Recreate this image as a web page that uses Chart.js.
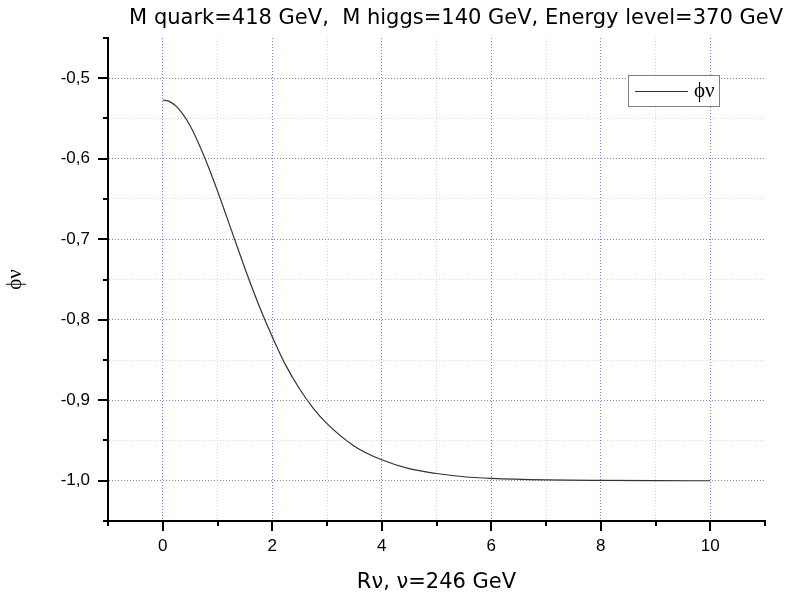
<!DOCTYPE html>
<html>
<head>
<meta charset="utf-8">
<script src="https://cdn.jsdelivr.net/npm/chart.js@4/dist/chart.umd.min.js"></script>
<style>
  body { margin: 0; background: #fff; }
  #wrap { width: 791px; height: 596px; }
</style>
</head>
<body>
<div id="wrap"><canvas id="phiChart" width="791" height="596"></canvas></div>
<script>
// valores
const rValues = [0, 0.125, 0.25, 0.5, 0.75, 1, 1.25, 1.5, 1.75, 2, 2.25, 2.5, 2.75, 3, 3.5, 4, 4.5, 5, 5.5, 6, 7, 8, 9, 10];
const phiValues = [-0.527, -0.529, -0.535, -0.559, -0.596, -0.640, -0.688, -0.736, -0.781, -0.821, -0.857, -0.886, -0.910, -0.929, -0.957, -0.974, -0.985, -0.991, -0.995, -0.997, -0.9989, -0.9996, -0.9999, -1.0];
const xMajorTicks = [0, 2, 4, 6, 8, 10];
const yMajorTicks = [-0.5, -0.6, -0.7, -0.8, -0.9, -1.0];

const chartTitle = 'M quark=418 GeV,  M higgs=140 GeV, Energy level=370 GeV';
const seriesLabel = 'ϕν';

const points = rValues.map((r, i) => ({ x: r, y: phiValues[i] }));

const majorBlue = 'rgba(110,110,255,0.9)';
const minorGreen = 'rgba(170,225,170,0.7)';

function isMajorX(v) { return xMajorTicks.some(t => Math.abs(t - v) < 1e-6); }
function isMajorY(v) { return yMajorTicks.some(t => Math.abs(t - v) < 1e-6); }

// marcas dos eixos (maiores e menores)
const axisTicks = {
    id: 'axisTicks',
    afterDraw(chart) {
        const ctx = chart.ctx;
        const xs = chart.scales.x;
        const ys = chart.scales.y;
        ctx.save();
        ctx.strokeStyle = '#000';
        ctx.lineWidth = 2;
        ctx.beginPath();
        xs.ticks.forEach(t => {
            const px = Math.round(xs.getPixelForValue(t.value));
            const len = isMajorX(t.value) ? 10 : 5;
            ctx.moveTo(px, xs.top);
            ctx.lineTo(px, xs.top + len);
        });
        ys.ticks.forEach(t => {
            const py = Math.round(ys.getPixelForValue(t.value));
            const len = isMajorY(t.value) ? 10 : 5;
            ctx.moveTo(ys.right, py);
            ctx.lineTo(ys.right - len, py);
        });
        ctx.stroke();
        ctx.restore();
    }
};

// legenda dentro do gráfico, com moldura
const boxLegend = {
    id: 'boxLegend',
    afterDraw(chart) {
        const ctx = chart.ctx;
        const area = chart.chartArea;
        const ds = chart.data.datasets[0];
        const x = area.right - 137, y = 75, w = 91, h = 31;
        ctx.save();
        ctx.fillStyle = '#fff';
        ctx.fillRect(x, y, w, h);
        ctx.strokeStyle = '#808080';
        ctx.lineWidth = 1;
        ctx.strokeRect(x + 0.5, y + 0.5, w, h);
        ctx.strokeStyle = ds.borderColor;
        ctx.beginPath();
        ctx.moveTo(x + 7, y + 16.5);
        ctx.lineTo(x + 60, y + 16.5);
        ctx.stroke();
        ctx.fillStyle = '#000';
        ctx.font = "21px 'Liberation Serif', 'Times New Roman', serif";
        ctx.textBaseline = 'middle';
        ctx.fillText(ds.label, x + 66, y + 16);
        ctx.restore();
    }
};

Chart.defaults.font.family = "'Liberation Sans', Arial, sans-serif";
Chart.defaults.color = '#000';

const ctx = document.getElementById('phiChart').getContext('2d');
const phiChart = new Chart(ctx, {
    type: 'line',
    data: {
        datasets: [{
            label: seriesLabel,
            data: points,
            borderColor: '#333',
            borderWidth: 1.2,
            pointRadius: 0,
            cubicInterpolationMode: 'monotone',
            fill: false
        }]
    },
    options: {
        responsive: false,
        animation: false,
        layout: { padding: { left: 0, right: 8, top: 0, bottom: 0 } },
        plugins: {
            legend: { display: false },
            tooltip: { enabled: false },
            title: {
                display: true,
                text: chartTitle,
                align: 'end',
                font: { size: 21, weight: 'normal', family: "'DejaVu Sans', sans-serif" },
                color: '#000',
                padding: { top: 5.5, bottom: 7.3 }
            }
        },
        scales: {
            x: {
                type: 'linear',
                min: -1,
                max: 11,
                afterFit: s => { s.height = 75; },
                ticks: {
                    stepSize: 1,
                    autoSkip: false,
                    maxRotation: 0,
                    padding: 15,
                    font: { size: 17 },
                    callback: v => isMajorX(v) ? String(v) : ''
                },
                grid: {
                    drawTicks: false,
                    lineWidth: 1,
                    color: c => {
                        const v = c.tick ? c.tick.value : 0;
                        if (v <= -1 || v >= 11) return 'rgba(0,0,0,0)';
                        return isMajorX(v) ? majorBlue : minorGreen;
                    }
                },
                border: { display: true, color: '#000', width: 2, dash: [1, 2] },
                title: {
                    display: true,
                    text: 'Rν, ν=246 GeV',
                    font: { size: 21, family: "'DejaVu Sans', sans-serif" },
                    padding: { top: 0, bottom: 1 }
                }
            },
            y: {
                type: 'linear',
                min: -1.05,
                max: -0.45,
                afterFit: s => { s.width = 108; },
                ticks: {
                    stepSize: 0.05,
                    autoSkip: false,
                    padding: 18,
                    font: { size: 17 },
                    callback: v => isMajorY(v) ? v.toFixed(1).replace('.', ',') : ''
                },
                grid: {
                    drawTicks: false,
                    lineWidth: 1,
                    color: c => {
                        const v = c.tick ? c.tick.value : 0;
                        if (v <= -1.049 || v >= -0.451) return 'rgba(0,0,0,0)';
                        return isMajorY(v) ? majorBlue : minorGreen;
                    }
                },
                border: { display: true, color: '#000', width: 2, dash: [1, 2] },
                title: {
                    display: true,
                    text: 'ϕν',
                    font: { size: 21, family: "'Liberation Serif', 'Times New Roman', serif" },
                    padding: { top: 3, bottom: 0 }
                }
            },
            // eixo vazio à direita só para reservar espaço
            yRight: {
                type: 'linear',
                position: 'right',
                display: true,
                afterFit: s => { s.width = 18; },
                ticks: { display: false },
                grid: { display: false, drawTicks: false },
                border: { display: false }
            }
        }
    },
    plugins: [axisTicks, boxLegend]
});
</script>
</body>
</html>
